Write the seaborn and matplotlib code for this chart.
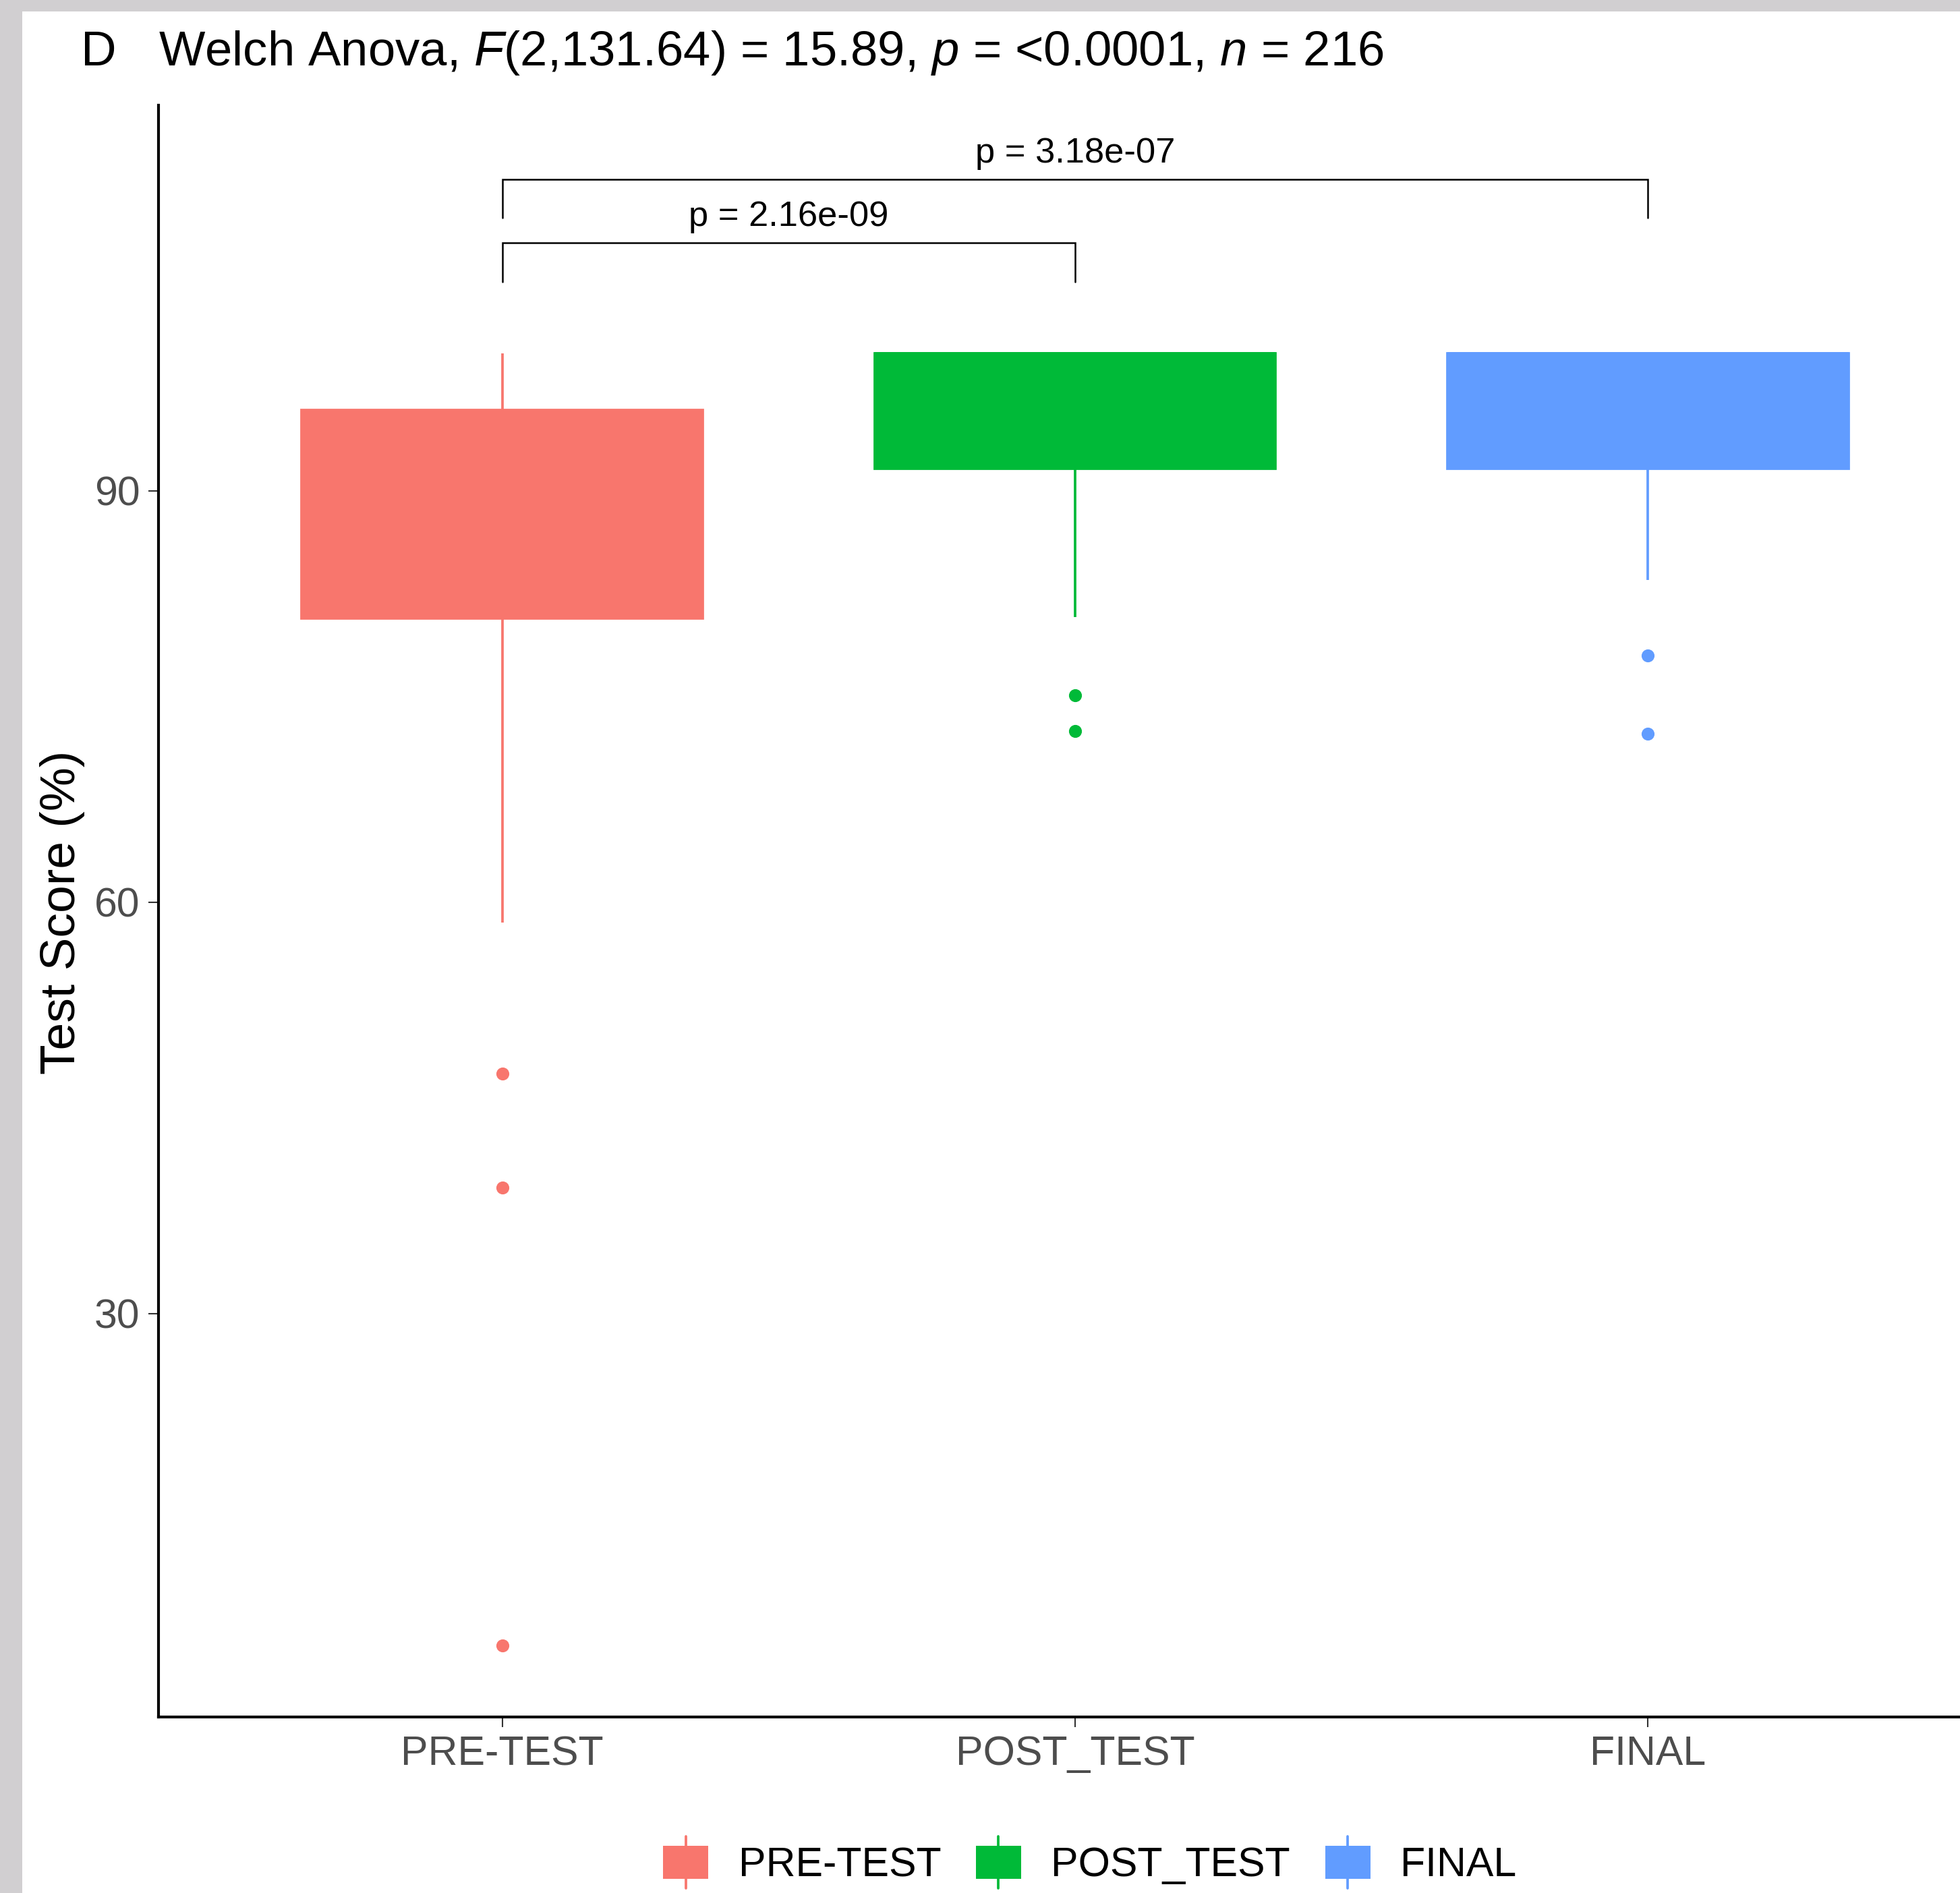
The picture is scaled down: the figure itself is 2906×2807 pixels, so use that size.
import pandas as pd
import matplotlib.pyplot as plt
import seaborn as sns
from matplotlib.patches import Rectangle, Patch
from matplotlib.lines import Line2D
from matplotlib.legend_handler import HandlerBase

# --- DATA (scores) ---
groups = ["PRE-TEST", "POST_TEST", "FINAL"]
colors = ["#F8766D", "#00BA38", "#619CFF"]

pre_test_scores = [5.8, 39.2, 47.5, 58.5, 80.7, 83.3, 86.0, 88.0, 90.0,
                   91.7, 92.0, 94.0, 95.9, 97.0, 100.0, 100.0, 100.0]
post_test_scores = [72.5, 75.1, 80.8, 91.6, 91.6, 100.0, 100.0, 100.0,
                    100.0, 100.0, 100.0, 100.0, 100.0]
final_scores = [72.3, 78.0, 83.5, 91.6, 91.6, 91.6, 100.0, 100.0, 100.0,
                100.0, 100.0, 100.0, 100.0]

# pairwise comparisons: (group a, group b, bracket height, tip height, label)
comparisons = [
    ("PRE-TEST", "POST_TEST", 108.05, 105.2, "p = 2.16e-09"),
    ("PRE-TEST", "FINAL", 112.7, 109.9, "p = 3.18e-07"),
]

title_text = (r"Welch Anova, $F$(2,131.64) = 15.89, $p$ = <0.0001, "
              r"$n$ = 216")

df = pd.DataFrame({
    "test": (["PRE-TEST"] * len(pre_test_scores)
             + ["POST_TEST"] * len(post_test_scores)
             + ["FINAL"] * len(final_scores)),
    "score": pre_test_scores + post_test_scores + final_scores,
})

# --- STYLE ---
sns.set_style("ticks")
plt.rcParams["font.family"] = ["Liberation Sans", "DejaVu Sans"]
plt.rcParams["text.color"] = "black"
plt.rcParams["mathtext.fontset"] = "custom"
plt.rcParams["mathtext.rm"] = "Liberation Sans"
plt.rcParams["mathtext.it"] = "Liberation Sans:italic"

fig = plt.figure(figsize=(2906 / 300, 2807 / 300), dpi=300)
ax = fig.add_axes([0.0809, 0.0930, 0.9353, 0.8514])

# grey frame at top and left (screenshot border)
fig.patches.append(Rectangle((0, 0), 0.0114, 1, transform=fig.transFigure,
                             facecolor="#D1CFD1", edgecolor="none", zorder=0))
fig.patches.append(Rectangle((0, 0.994), 1, 0.006, transform=fig.transFigure,
                             facecolor="#D1CFD1", edgecolor="none", zorder=0))

# one call per group so the box outline / median share the fill colour
for g, c in zip(groups, colors):
    sns.boxplot(
        data=df[df["test"] == g], x="test", y="score", order=groups,
        color=c, linecolor=c, saturation=1, width=0.7, linewidth=0.9,
        showcaps=False,
        flierprops=dict(marker="o", markerfacecolor=c, markeredgecolor=c,
                        markersize=3.6),
        ax=ax,
    )

# significance brackets
for a, b, y, tip, label in comparisons:
    xa, xb = groups.index(a), groups.index(b)
    ax.plot([xa, xa, xb, xb], [tip, y, y, tip], color="black", lw=0.6,
            solid_joinstyle="miter")
    ax.text((xa + xb) / 2, y + 0.7, label, ha="center", va="bottom",
            fontsize=12.6, color="black")

ax.set_xlim(-0.6, 2.6)
ax.set_ylim(0.6, 118.1)
ax.set_yticks([30, 60, 90])
ax.set_xlabel("")
ax.set_ylabel("")
sns.despine(ax=ax)
for s in ["left", "bottom"]:
    ax.spines[s].set_linewidth(1.0)
    ax.spines[s].set_color("black")
ax.tick_params(axis="both", length=3.6, width=0.5, color="#333333",
               labelcolor="#4D4D4D", labelsize=14.6, pad=3)

fig.text(0.0318, 0.518, "Test Score (%)", rotation=90, ha="center",
         va="center", fontsize=17.6, color="black")
fig.text(0.0414, 0.972, "D", ha="left", va="center", fontsize=17.5,
         color="black")
fig.text(0.0809, 0.972, title_text, ha="left", va="center", fontsize=17.4,
         color="black")


# legend keys drawn like ggplot boxplot glyphs
class BoxKey(HandlerBase):
    def create_artists(self, legend, orig_handle, xdescent, ydescent,
                       width, height, fontsize, trans):
        c = orig_handle.get_facecolor()
        rect = Rectangle((-xdescent, -ydescent), width, height,
                         facecolor=c, edgecolor="none", transform=trans)
        xm = -xdescent + width / 2
        line = Line2D([xm, xm], [-ydescent - 0.3 * height,
                                 -ydescent + 1.3 * height],
                      color=c, lw=0.9, transform=trans)
        return [line, rect]


handles = [Patch(facecolor=c, label=g) for g, c in zip(groups, colors)]
fig.legend(handles=handles, loc="center", bbox_to_anchor=(0.556, 0.0145),
           ncol=3, frameon=False, fontsize=14.6, handlelength=1.1,
           handleheight=0.85, handletextpad=0.73, columnspacing=0.85,
           handler_map={Patch: BoxKey()})

plt.savefig("out.png", dpi=300)
plt.close()
